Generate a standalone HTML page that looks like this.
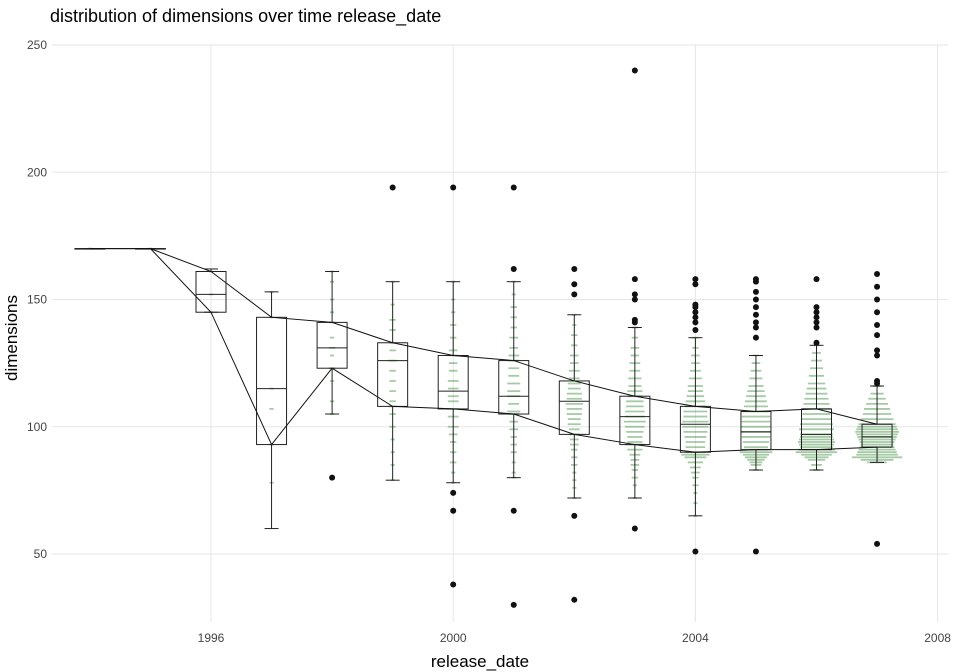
<!DOCTYPE html>
<html><head><meta charset="utf-8">
<style>
body{margin:0;background:#fff;}
svg{display:block;font-family:"Liberation Sans","DejaVu Sans",sans-serif;}
</style></head>
<body>
<svg id="chart" width="960" height="672" viewBox="0 0 960 672" xmlns="http://www.w3.org/2000/svg">
<text x="50" y="22" font-size="18" fill="#000">distribution of dimensions over time release_date</text>
<g id="grid"></g>
<g id="dashes"></g>
<g id="boxes"></g>
<g id="lines"></g>
<g id="outliers"></g>
<g id="axes"></g>
<text x="480" y="667" font-size="17" text-anchor="middle">release_date</text>
<text transform="translate(17,338) rotate(-90)" font-size="17" text-anchor="middle">dimensions</text>
</svg>
<script>
const years=[1994,1995,1996,1997,1998,1999,2000,2001,2002,2003,2004,2005,2006,2007];
const q1=[170,170,145,93,123,108,107,105,97,93,90,91,91,92];
const med=[170,170,152,115,131,126,114,112,110,104,101,98,97,96];
const q3=[170,170,161,143,141,133,128,126,118,112,108,106,107,101];
const wlo=[170,170,145,60,105,79,78,80,72,72,65,83,83,86];
const whi=[170,170,162,153,161,157,157,157,144,139,135,128,132,116];
const outlierVals=[[],[],[],[],[80],[194],[194,74,67,38],[194,162,67,30],[162,156,152,65,32],[240,158,152,150,142,141,60],[158,156,148,147,145,143,141,138,51],[158,157,153,150,147,144,141,139,135,51],[158,147,145,143,141,139,133],[160,155,150,145,140,136,130,128,118,117,54]];
// distribution dash values & counts per year
const dashVals=[
[170],[170],[161,152,145],[153,143,115,107,93,78],
[161,157,150,145,141,135,131,128,123,118,110,105],
[157,148,142,138,133,130,126,122,118,114,110,108,105,100,95,90,85,79],
[157,150,145,140,135,130,128,125,122,118,115,112,110,107,104,100,97,94,90,86,82,78],
[157,152,147,143,139,135,131,128,126,123,120,117,114,112,109,106,105,102,99,96,93,90,86,82,80],
[144,140,136,132,128,125,122,119,117,115,113,111,109,107,105,103,101,99,97,95,93,91,88,85,82,79,76,72],
[139,135,131,128,125,122,119,116,114,112,110,108,106,104,102,100,98,96,94,93,91,89,87,85,83,80,77,72],
[135,131,128,125,122,119,116,114,112,110,108,106,104,102,100,98,96,94,92,90,89,88,86,84,82,80,77,74,70,65],
[128,125,122,119,116,114,112,110,108,106,104,102,100,98,96,94,92,91,90,89,88,87,86,85,83],
[132,129,126,123,120,117,115,113,111,109,107,105,103,101,99,97,96,95,94,93,92,91,90,89,88,87,85,83],
[116,113,111,109,107,105,103,101,100,99,98,97,96,95,94,93,92,91,90,89,88,87,86]];
const dashCounts=[
[1],[1],[1,1,1],[1,1,1,1,1,1],
[1,1,1,1,2,1,2,1,2,1,1,1],
[1,1,2,2,2,2,3,2,2,2,2,3,2,2,1,1,1,1],
[1,1,1,2,2,3,3,3,3,4,4,4,4,5,4,4,3,2,2,2,1,1],
[1,1,2,2,2,3,3,4,4,4,4,5,5,5,4,5,4,3,3,2,2,2,1,1,1],
[1,1,2,2,3,3,4,4,5,5,6,6,7,6,6,5,5,4,4,3,3,2,2,2,1,1,1,1],
[2,2,3,3,4,4,5,5,6,6,7,7,8,8,9,8,7,6,6,8,6,4,3,3,2,2,1,1],
[2,2,3,3,4,5,6,6,7,8,9,10,10,11,11,10,9,8,8,8,12,9,6,4,3,2,2,1,1,1],
[2,3,4,5,6,7,8,9,10,11,12,12,13,13,12,11,10,10,14,11,9,7,5,4,2],
[2,3,4,5,6,7,8,9,10,11,12,12,13,14,15,14,14,15,16,15,14,16,18,13,10,7,4,2],
[3,5,7,9,11,12,14,16,17,18,19,18,17,16,15,14,15,16,17,18,22,14,8]];
const NS="http://www.w3.org/2000/svg";
const X0=52,X1=948,Y0=45,Y1=600;
const xs=y=>211+(y-1996)*60.55;
const ys=v=>554-(v-50)*2.545;
function mk(tag,attrs,parent){const e=document.createElementNS(NS,tag);for(const k in attrs)e.setAttribute(k,attrs[k]);document.getElementById(parent).appendChild(e);return e;}
const yTicks=[50,100,150,200,250], xTicks=[1996,2000,2004,2008];
yTicks.forEach(t=>{
 const l=mk('line',{x1:X0,x2:X1,y1:ys(t),y2:ys(t),stroke:'#e6e6e6','stroke-width':1},'grid');
 
 
 const tx=mk('text',{x:47,y:ys(t)+4,'text-anchor':'end','font-size':12,fill:'#444'},'axes');tx.textContent=t;
 
 
});
xTicks.forEach(t=>{
 const l=mk('line',{x1:xs(t),x2:xs(t),y1:Y0,y2:Y1+22,stroke:'#e6e6e6','stroke-width':1},'grid');
 
 
 const tx=mk('text',{x:xs(t),y:642,'text-anchor':'middle','font-size':12,fill:'#444'},'axes');tx.textContent=t;
 
 
});
const hw=15;
years.forEach((yr,i)=>{
 const cx=xs(yr);
 dashVals[i].forEach((v,j)=>{
  const w=Math.min(dashCounts[i][j]*2.2,52)+2;
  const d=mk('line',{x1:cx-w/2,x2:cx+w/2,y1:ys(v),y2:ys(v),stroke:'#3a8a3a','stroke-opacity':0.45,'stroke-width':1.8},'dashes');
  
  
 });
 const g=mk('g',{stroke:'#222','stroke-width':1,fill:'none'},'boxes');
 
 
 const add=(t,a)=>{const e=document.createElementNS(NS,t);for(const k in a)e.setAttribute(k,a[k]);g.appendChild(e);};
 add('line',{x1:cx,x2:cx,y1:ys(whi[i]),y2:ys(q3[i])});
 add('line',{x1:cx,x2:cx,y1:ys(q1[i]),y2:ys(wlo[i])});
 add('line',{x1:cx-7,x2:cx+7,y1:ys(whi[i]),y2:ys(whi[i])});
 add('line',{x1:cx-7,x2:cx+7,y1:ys(wlo[i]),y2:ys(wlo[i])});
 add('rect',{x:cx-hw,y:ys(q3[i]),width:hw*2,height:Math.max(ys(q1[i])-ys(q3[i]),0.5)});
 add('line',{x1:cx-hw,x2:cx+hw,y1:ys(med[i]),y2:ys(med[i])});
 outlierVals[i].forEach(v=>{
  const c=mk('circle',{cx:cx,cy:ys(v),r:3,fill:'#111'},'outliers');
  
  
 });
});
const up=mk('polyline',{points:years.map((y,i)=>xs(y)+','+ys(q3[i])).join(' '),fill:'none',stroke:'#111','stroke-width':1},'lines');


const lo=mk('polyline',{points:years.map((y,i)=>xs(y)+','+ys(q1[i])).join(' '),fill:'none',stroke:'#111','stroke-width':1},'lines');


</script>
</body></html>
